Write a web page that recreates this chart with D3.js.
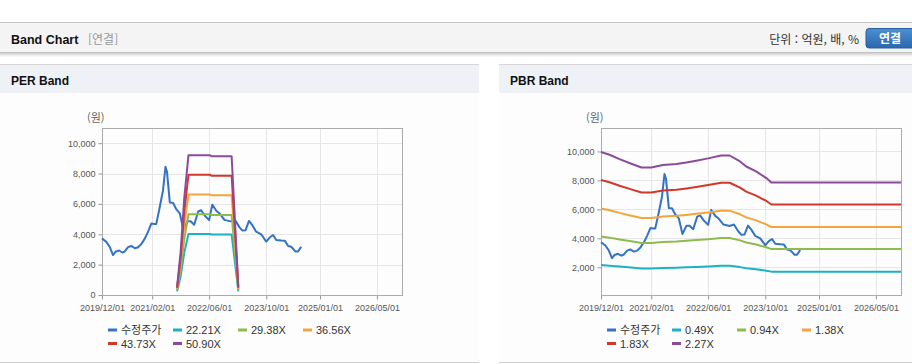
<!DOCTYPE html>
<html lang="ko">
<head>
<meta charset="UTF-8">
<title>Band Chart</title>
<script src="https://d3js.org/d3.v7.min.js"></script>
<style>
  body { margin: 0; background: #fff; }
  svg { display: block; }
  text { font-family: "Liberation Sans", Arial, "Noto Sans CJK KR", sans-serif; }
  .kr { font-family: "Noto Sans CJK KR", "Liberation Sans", sans-serif; }
  .tick { font-size: 9px; fill: #555; }
  .grid { stroke: #e6e6e6; stroke-width: 1; shape-rendering: crispEdges; }
  .frame { fill: none; stroke: #aaa; shape-rendering: crispEdges; }
  .band { fill: none; stroke-width: 2; stroke-linejoin: round; }
</style>
</head>
<body>
<script>
// 수정주가 (adjusted close)
const priceDates = ["2019-12-01","2020-01-07","2020-02-04","2020-03-04","2020-03-25","2020-04-24","2020-05-22","2020-06-10",
  "2020-07-10","2020-08-07","2020-09-06","2020-10-04","2020-11-01","2020-12-01","2020-12-28","2021-01-25","2021-02-18",
  "2021-03-07","2021-04-01","2021-05-04","2021-05-25","2021-06-07","2021-07-01","2021-07-28","2021-08-25","2021-09-24",
  "2021-10-25","2021-11-28","2021-12-25","2022-01-25","2022-02-28","2022-03-25","2022-04-24","2022-06-01","2022-06-28",
  "2022-08-01","2022-09-01","2022-10-10","2022-12-01","2023-01-07","2023-02-14","2023-03-10","2023-04-07","2023-05-07",
  "2023-06-04","2023-07-07","2023-08-19","2023-10-01","2023-11-01","2023-11-28","2023-12-25","2024-02-07","2024-03-07",
  "2024-04-04","2024-05-01","2024-06-07","2024-06-28","2024-07-25"];
const priceValues = [3730,3500,3180,2630,2850,2930,2800,2860,
  3150,3230,3080,3150,3370,3730,4170,4710,4670,
  4670,5580,6890,8440,8110,6100,6080,5650,5380,
  4300,4860,4860,4630,5500,5580,5240,4930,5950,
  5550,5350,4950,4850,4950,4470,4250,4260,4880,
  4600,4170,4000,3520,3800,3950,3620,3590,3580,
  3230,3180,2860,2870,3180];

// PER band base (EPS) and multiples
const perMultiples = [22.21, 29.38, 36.56, 43.73, 50.90];
const epsDates  = ["2021-09-01","2021-10-01","2021-11-01","2021-12-07","2022-06-10","2022-06-20","2022-12-10","2023-02-05"];
const epsValues = [10.8, 55, 125, 181, 181, 179.5, 179.5, 10.8];

// PBR band base (BPS) and multiples
const pbrMultiples = [0.49, 0.94, 1.38, 1.83, 2.27];
const bpsDates  = ["2019-12-01","2020-02-12","2020-05-07","2020-08-15","2020-11-10","2021-02-01","2021-05-12","2021-09-04",
  "2021-11-28","2022-02-20","2022-06-01","2022-09-20","2022-12-01","2023-02-28","2023-04-22","2023-07-15","2023-10-10",
  "2023-11-22","2026-12-01"];
const bpsValues = [4388,4304,4172,4031,3916,3916,3991,4022,
  4070,4123,4194,4282,4282,4101,3947,3797,3595,
  3463,3463];

const xTickDates  = ["2019-12-01","2021-02-01","2022-06-01","2023-10-01","2025-01-01","2026-05-01"];
const xTickLabels = ["2019/12/01","2021/02/01","2022/06/01","2023/10/01","2025/01/01","2026/05/01"];
const xDomain = ["2019-12-01","2026-12-01"];
const perYTicks = [0,2000,4000,6000,8000,10000];
const pbrYTicks = [2000,4000,6000,8000,10000];

const colors = ["#3472c6","#1db1c1","#8dbb4d","#f3a43a","#d3362b","#8b4b9b"];

const parse = d3.timeParse("%Y-%m-%d");
const W = 912, H = 364;
const svg = d3.select("body").append("svg").attr("width", W).attr("height", H);

// ---- top header ----
const defs = svg.append("defs");
const sh = defs.append("linearGradient").attr("id","hshadow").attr("x1",0).attr("y1",0).attr("x2",0).attr("y2",1);
sh.append("stop").attr("offset","0").attr("stop-color","#d0d0d0");
sh.append("stop").attr("offset","1").attr("stop-color","#ffffff");
const bg = defs.append("linearGradient").attr("id","btn").attr("x1",0).attr("y1",0).attr("x2",0).attr("y2",1);
bg.append("stop").attr("offset","0").attr("stop-color","#4d8fd3");
bg.append("stop").attr("offset","1").attr("stop-color","#2b67ac");

svg.append("rect").attr("x",0).attr("y",53).attr("width",W).attr("height",4).attr("fill","url(#hshadow)");
svg.append("rect").attr("x",0).attr("y",22).attr("width",W).attr("height",31).attr("fill","#f4f4f4");
svg.append("line").attr("x1",0).attr("x2",W).attr("y1",22.5).attr("y2",22.5).attr("stroke","#c6c6c6");
svg.append("line").attr("x1",0).attr("x2",W).attr("y1",52.5).attr("y2",52.5).attr("stroke","#c2c2c2");
svg.append("text").attr("x",11).attr("y",43.5).attr("font-size","12.5px").attr("font-weight","bold")
  .attr("fill","#111").text("Band Chart");
svg.append("text").attr("class","kr").attr("x",88).attr("y",43.5).attr("font-size","12px")
  .attr("fill","#999").text("[연결]");
svg.append("text").attr("class","kr").attr("x",859).attr("y",43.5).attr("font-size","12px")
  .attr("text-anchor","end").attr("fill","#333").text("단위 : 억원, 배, %");
svg.append("rect").attr("x",866).attr("y",28.5).attr("width",52).attr("height",19.5).attr("rx",3)
  .attr("fill","url(#btn)").attr("stroke","#2a5f9e");
svg.append("text").attr("class","kr").attr("x",890).attr("y",43).attr("font-size","12px").attr("font-weight","bold")
  .attr("text-anchor","middle").attr("fill","#fff").text("연결");

// ---- panel ----
function drawPanel(o) {
  const g = svg.append("g");
  g.append("rect").attr("x",o.px).attr("y",64).attr("width",o.pw).attr("height",298).attr("fill","#fdfdfd");
  g.append("rect").attr("x",o.px).attr("y",64).attr("width",o.pw).attr("height",29).attr("fill","#eef2f7");
  g.append("line").attr("x1",o.px).attr("x2",o.px+o.pw).attr("y1",64.5).attr("y2",64.5).attr("stroke","#d6d6d6");
  g.append("line").attr("x1",o.px).attr("x2",o.px+o.pw).attr("y1",362.5).attr("y2",362.5).attr("stroke","#d0d0d0");
  g.append("text").attr("x",o.px+11).attr("y",85).attr("font-size","12px").attr("font-weight","bold")
    .attr("fill","#111").text(o.title);

  const x = d3.scaleTime().domain(xDomain.map(parse)).range([o.left, o.left + 300]);
  const y = d3.scaleLinear().domain(o.yDomain).range([295, 128]);

  // grid
  g.selectAll(".gx").data(xTickDates.map(parse)).enter().append("line").attr("class","grid")
    .attr("x1",d=>Math.round(x(d))+0.5).attr("x2",d=>Math.round(x(d))+0.5).attr("y1",128).attr("y2",295);
  g.selectAll(".gy").data(o.yTicks).enter().append("line").attr("class","grid")
    .attr("x1",o.left).attr("x2",o.left+300).attr("y1",d=>Math.round(y(d))+0.5).attr("y2",d=>Math.round(y(d))+0.5);

  // axes
  const xAxis = d3.axisBottom(x).tickValues(xTickDates.map(parse))
    .tickFormat((d,i) => xTickLabels[i]).tickSize(4).tickPadding(5).tickSizeOuter(0);
  const ax = g.append("g").attr("transform","translate(0,295.5)").call(xAxis);
  const yAxis = d3.axisLeft(y).tickValues(o.yTicks).tickFormat(d3.format(",")).tickSize(4).tickPadding(3).tickSizeOuter(0);
  const ay = g.append("g").attr("transform",`translate(${o.left+0.5},0)`).call(yAxis);
  [ax, ay].forEach(a => {
    a.select(".domain").remove();
    a.selectAll("line").attr("stroke","#999");
    a.selectAll("text").attr("class","tick").attr("font-size",null).attr("font-family",null);
  });
  g.append("rect").attr("class","frame").attr("x",o.left+0.5).attr("y",128.5).attr("width",300).attr("height",166.5);

  g.append("text").attr("class","kr").attr("x",o.left-15).attr("y",122).attr("font-size","11px")
    .attr("fill","#666").text("(원)");

  const line = d3.line().x(d => x(d[0])).y(d => y(d[1]));
  const price = priceDates.map((d,i) => [parse(d), priceValues[i]]);
  g.append("path").datum(price).attr("class","band").attr("stroke",colors[0]).attr("d",line);

  o.multiples.forEach((m, k) => {
    const pts = o.baseDates.map((d,i) => [parse(d), o.baseValues[i] * m]);
    g.append("path").datum(pts).attr("class","band").attr("stroke",colors[k+1]).attr("d",line);
  });

  // legend
  const labels = ["수정주가"].concat(o.multiples.map(m => m.toFixed(2) + "X"));
  const lg = g.selectAll(".lg").data(labels).enter().append("g")
    .attr("transform",(d,i) => `translate(${o.left + 6 + (i % 4) * 65},${330 + Math.floor(i / 4) * 13.5})`);
  lg.append("line").attr("x1",0).attr("x2",9).attr("y1",0).attr("y2",0)
    .attr("stroke",(d,i) => colors[i]).attr("stroke-width",3);
  lg.append("text").attr("class",(d,i) => i === 0 ? "kr" : null).attr("x",13).attr("y",4)
    .attr("font-size","11px").attr("fill","#333").text(d => d);
}

drawPanel({px:0, pw:479, left:102, title:"PER Band", yDomain:[0,11000], yTicks:perYTicks,
  multiples:perMultiples, baseDates:epsDates, baseValues:epsValues});
drawPanel({px:499, pw:413, left:601, title:"PBR Band", yDomain:[83,11620], yTicks:pbrYTicks,
  multiples:pbrMultiples, baseDates:bpsDates, baseValues:bpsValues});
</script>
</body>
</html>
